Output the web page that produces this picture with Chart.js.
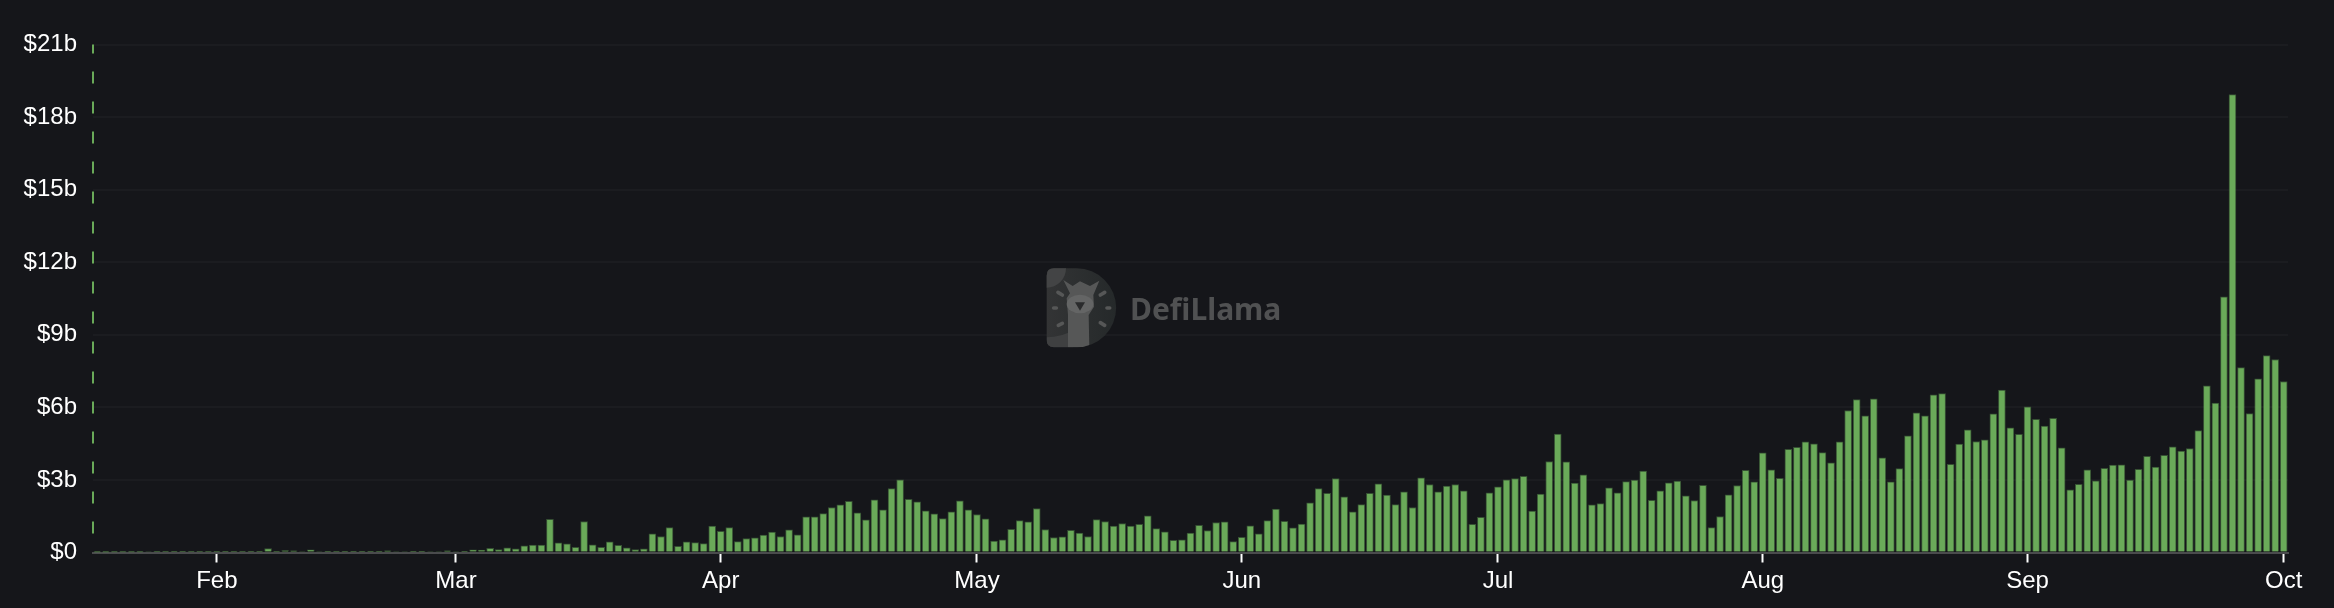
<!DOCTYPE html>
<html>
<head>
<meta charset="utf-8">
<style>html,body{margin:0;padding:0;background:#15161a;overflow:hidden}canvas{display:block}</style>
<script src="https://cdn.jsdelivr.net/npm/chart.js@4"></script>
</head>
<body>
<canvas id="c" width="2334" height="608" style="width:2334px;height:608px"></canvas>
<script>
const monthNames = ['Jan','Feb','Mar','Apr','May','Jun','Jul','Aug','Sep','Oct'];
const monthDays = [31,28,31,30,31,30,31,31,30,1];
const firstDay = 18;
const yTicks = [0,3,6,9,12,15,18,21];
const volumeBillions = [
  .005,.005,.01,.01,.01,.01,.04,.02,.02,.03,.03,.02,.02,.02,
  .02,.03,.02,.02,.05,.03,.16,.02,.08,.07,.04,.11,.04,.03,.02,.03,.03,.03,.03,.03,.07,.04,.04,.05,.05,.04,.04,.07,
  .04,.05,.11,.10,.17,.12,.19,.15,.28,.31,.31,1.37,.40,.36,.21,1.28,.32,.21,.44,.30,.19,.12,.15,.77,.66,1.03,.25,.44,.41,.37,1.09,
  .87,1.03,.45,.58,.61,.72,.84,.66,.94,.73,1.47,1.47,1.61,1.86,1.97,2.12,1.64,1.35,2.18,1.76,2.64,3.00,2.20,2.09,1.72,1.60,1.40,1.68,2.14,1.76,
  1.57,1.39,.47,.52,.96,1.32,1.27,1.82,.95,.62,.65,.92,.80,.66,1.36,1.28,1.09,1.20,1.09,1.16,1.52,.99,.85,.50,.52,.80,1.12,.91,1.24,1.27,.45,
  .63,1.10,.77,1.32,1.80,1.29,1.02,1.18,2.05,2.64,2.45,3.06,2.30,1.68,1.98,2.45,2.84,2.37,1.98,2.51,1.86,3.09,2.81,2.51,2.75,2.81,2.55,1.16,1.45,2.47,
  2.71,3.00,3.06,3.15,1.71,2.42,3.76,4.90,3.75,2.87,3.21,1.97,2.02,2.67,2.47,2.93,2.99,3.37,2.16,2.55,2.88,2.95,2.34,2.15,2.78,1.03,1.49,2.38,2.77,3.40,2.92,
  4.12,3.42,3.07,4.27,4.35,4.57,4.49,4.13,3.71,4.57,5.87,6.32,5.65,6.35,3.91,2.92,3.47,4.82,5.77,5.65,6.52,6.57,3.64,4.48,5.07,4.59,4.66,5.73,6.71,5.15,4.88,
  6.02,5.50,5.23,5.55,4.33,2.59,2.82,3.42,2.96,3.48,3.61,3.62,2.99,3.44,3.98,3.53,4.02,4.37,4.19,4.30,5.04,6.89,6.18,10.57,18.93,7.64,5.74,7.18,8.14,7.98,
  7.07
];

const days = [];
monthNames.forEach((m, i) => {
  for (let d = (i === 0 ? firstDay : 1); d <= monthDays[i]; d++) days.push(m + ' ' + d);
});
const monthStarts = days.map((d, i) => d.endsWith(' 1') ? i : -1).filter(i => i >= 0);

const GREEN = '#6aaa59';

const watermark = {
  id: 'watermark',
  beforeDatasetsDraw(chart) {
    const ctx = chart.ctx;
    ctx.save();
    ctx.translate(1030, 250);
    ctx.scale(1 / 3, 1 / 3);
    const d = new Path2D();
    d.moveTo(72, 55);
    d.lineTo(140, 55);
    d.arc(140, 173.5, 118.5, -Math.PI / 2, Math.PI / 2);
    d.lineTo(72, 292);
    d.quadraticCurveTo(50, 292, 50, 270);
    d.lineTo(50, 77);
    d.quadraticCurveTo(50, 55, 72, 55);
    d.closePath();
    const g = ctx.createLinearGradient(50, 0, 258, 0);
    g.addColorStop(0, '#333435');
    g.addColorStop(1, '#25292a');
    ctx.fillStyle = g;
    ctx.fill(d);
    ctx.save();
    ctx.clip(d);
    ctx.fillStyle = '#434445';
    ctx.beginPath(); ctx.arc(50, 55, 58, 0, Math.PI * 2); ctx.fill();
    ctx.fillStyle = '#3f4041';
    ctx.beginPath();
    ctx.moveTo(50, 262); ctx.quadraticCurveTo(95, 262, 130, 240);
    ctx.lineTo(130, 292); ctx.lineTo(50, 292); ctx.closePath(); ctx.fill();
    ctx.fillStyle = '#565757';
    ctx.beginPath();
    ctx.moveTo(100, 90); ctx.lineTo(128, 108); ctx.lineTo(150, 94); ctx.lineTo(180, 108); ctx.lineTo(208, 92);
    ctx.lineTo(190, 135); ctx.lineTo(192, 170); ctx.lineTo(176, 195); ctx.lineTo(178, 292); ctx.lineTo(114, 292);
    ctx.lineTo(114, 195); ctx.lineTo(110, 145); ctx.lineTo(120, 130); ctx.closePath(); ctx.fill();
    ctx.fillStyle = '#646565';
    ctx.beginPath(); ctx.ellipse(150, 162, 40, 28, 0, 0, Math.PI * 2); ctx.fill();
    ctx.fillStyle = '#2a2b2c';
    ctx.beginPath(); ctx.moveTo(135, 157); ctx.lineTo(165, 157); ctx.lineTo(150, 182); ctx.closePath(); ctx.fill();
    ctx.restore();
    ctx.strokeStyle = '#565757';
    ctx.lineWidth = 11;
    ctx.lineCap = 'round';
    [[84,127,97,135],[71,174,79,174],[85,226,97,220],[211,135,224,127],[231,174,239,174],[211,218,224,226]].forEach(s => {
      ctx.beginPath(); ctx.moveTo(s[0], s[1]); ctx.lineTo(s[2], s[3]); ctx.stroke();
    });
    ctx.restore();
    ctx.save();
    ctx.fillStyle = '#505152';
    ctx.font = 'bold 30px "Noto Sans"';
    ctx.textAlign = 'left';
    ctx.textBaseline = 'alphabetic';
    ctx.fillText('DefiLlama', 1130, 319.5);
    ctx.restore();
  }
};

const dashedEdge = {
  id: 'dashedEdge',
  afterDraw(chart) {
    const { ctx, chartArea: a } = chart;
    ctx.save();
    ctx.strokeStyle = GREEN;
    ctx.lineWidth = 2;
    ctx.setLineDash([12, 18]);
    ctx.lineDashOffset = 3;
    ctx.beginPath();
    ctx.moveTo(a.left, a.top);
    ctx.lineTo(a.left, a.bottom - 2);
    ctx.stroke();
    ctx.restore();
  }
};

new Chart(document.getElementById('c'), {
  type: 'bar',
  data: {
    labels: days,
    datasets: [{
      data: volumeBillions,
      backgroundColor: GREEN,
      borderColor: 'rgba(106,170,89,0.4)',
      borderWidth: 1,
      barThickness: 7
    }]
  },
  plugins: [watermark, dashedEdge],
  options: {
    responsive: false,
    animation: false,
    devicePixelRatio: 1,
    layout: { padding: { top: 44.5, right: 46, left: 0, bottom: 0 } },
    plugins: { legend: { display: false }, tooltip: { enabled: false } },
    scales: {
      x: {
        type: 'category',
        offset: true,
        afterBuildTicks(s) { s.ticks = monthStarts.map(v => ({ value: v })); },
        afterFit(s) { s.height = 55.5; },
        grid: { drawOnChartArea: false, drawTicks: true, offset: false, tickColor: '#ffffff', tickLength: 10, tickWidth: 2 },
        border: { display: true, color: '#4a4b4d', width: 2 },
        ticks: {
          autoSkip: false, maxRotation: 0, minRotation: 0, padding: 4, color: '#ffffff',
          font: { family: '"Liberation Sans"', size: 24 },
          callback(v) { return days[v].split(' ')[0]; }
        }
      },
      y: {
        min: 0, max: 21,
        afterBuildTicks(s) { s.ticks = yTicks.map(v => ({ value: v })); },
        afterFit(s) { s.width = 93; },
        grid: { color: '#1b1c20', lineWidth: 2, drawTicks: false },
        border: { display: false },
        ticks: {
          padding: 16, color: '#ffffff',
          font: { family: '"Liberation Sans"', size: 24 },
          callback(v) { return v === 0 ? '$0' : '$' + v + 'b'; }
        }
      }
    }
  }
});
</script>
</body>
</html>
